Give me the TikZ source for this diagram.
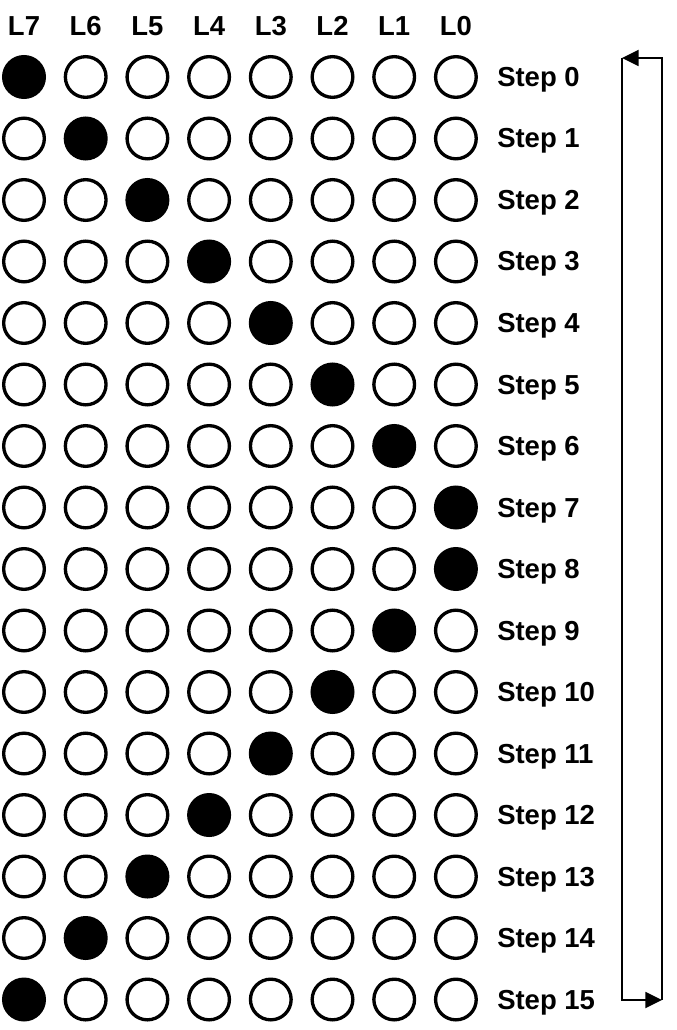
\documentclass[tikz,border=0pt]{standalone}
\usepackage{fontspec}
\setmainfont{Liberation Sans}
\usetikzlibrary{arrows.meta}
\begin{document}
\begin{tikzpicture}[x=0.75pt,y=-0.75pt,
  lamp/.style={circle,draw=black,line width=2.5pt,minimum size=30.5pt,inner sep=0pt,fill=white},
  lampon/.style={lamp,fill=black},
  hdr/.style={font=\bfseries\fontsize{20.6}{22}\selectfont,inner sep=0pt,anchor=base},
  steplbl/.style={font=\bfseries\fontsize{20.6}{22}\selectfont,inner sep=0pt,anchor=base west},
  loop/.style={line width=1.4pt,-{Triangle[length=12.5pt,width=12pt]}}]
\useasboundingbox (0,0) rectangle (676,1030);
\foreach \n [count=\i from 0] in {7,6,5,4,3,2,1,0}{
  \node[hdr] (h\i) at ({24+61.7*\i},36) {L\n};
}
\foreach \j in {0,...,15}{
  \pgfmathtruncatemacro{\on}{\j<8 ? \j : 15-\j}
  \foreach \i in {0,...,7}{
    \ifnum\i=\on
      \node[lampon] (c\j-\i) at ({24+61.7*\i},{77+61.5*\j}) {};
    \else
      \node[lamp] (c\j-\i) at ({24+61.7*\i},{77+61.5*\j}) {};
    \fi
  }
  \node[steplbl] (s\j) at (497,{86.5+61.5*\j}) {Step \j};
}
\coordinate (tl) at (622,58);
\coordinate (tr) at (662,58);
\coordinate (bl) at (622,1000);
\coordinate (br) at (662,1000);
\draw[loop] (tl) -- (bl) -- (br);
\draw[loop] (br) -- (tr) -- (tl);
\end{tikzpicture}
\end{document}
